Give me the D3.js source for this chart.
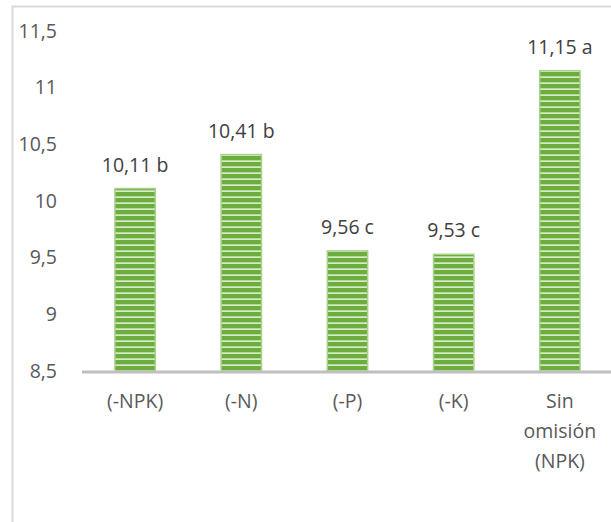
<!DOCTYPE html>
<html>
<head>
<meta charset="utf-8">
<script src="https://cdn.jsdelivr.net/npm/d3@7"></script>
<style>
  html, body { margin: 0; padding: 0; background: #fff; }
  svg { display: block; font-family: "Open Sans", sans-serif; }
</style>
</head>
<body>
<svg id="chart" width="611" height="522"></svg>
<script>
// data
const categories = ['(-NPK)', '(-N)', '(-P)', '(-K)', 'Sin omisión (NPK)'];
const yields     = [10.11, 10.41, 9.56, 9.53, 11.15];
const letters    = ['b', 'b', 'c', 'c', 'a'];
const yTicks     = [8.5, 9, 9.5, 10, 10.5, 11, 11.5];

const fmt = v => String(v).replace('.', ',');
const FONT = '19.5px';

const svg = d3.select('#chart');

// outer chart border (runs off the right and bottom edges)
svg.append('rect')
    .attr('x', 12.5).attr('y', 6.5)
    .attr('width', 640).attr('height', 560)
    .attr('fill', 'none')
    .attr('stroke', '#d9d9d9')
    .attr('stroke-width', 2);

// striped bar fill
const defs = svg.append('defs');
const pat = defs.append('pattern')
    .attr('id', 'stripes')
    .attr('patternUnits', 'userSpaceOnUse')
    .attr('width', 8).attr('height', 6);
pat.append('rect').attr('width', 8).attr('height', 6).attr('fill', '#6cad3e');
pat.append('rect').attr('y', 4.3).attr('width', 8).attr('height', 1.7).attr('fill', '#d6ebc8');

const x = d3.scaleBand()
    .domain(categories)
    .range([82, 613])
    .paddingInner(0.62)
    .paddingOuter(0.31);

const y = d3.scaleLinear()
    .domain([8.5, 11.5])
    .range([371, 31]);

// y labels
svg.append('g')
    .attr('transform', 'translate(57,0)')
    .call(d3.axisLeft(y).tickValues(yTicks).tickSize(0).tickPadding(0).tickFormat(fmt))
    .call(a => a.select('.domain').remove())
    .call(a => a.selectAll('text')
        .attr('fill', '#595959')
        .style('font-size', FONT)
        .style('font-family', '"Open Sans", sans-serif'));

// bars
svg.append('g').selectAll('rect')
    .data(categories)
    .join('rect')
    .attr('x', d => x(d))
    .attr('y', (d, i) => y(yields[i]))
    .attr('width', x.bandwidth())
    .attr('height', (d, i) => y(8.5) - y(yields[i]))
    .attr('fill', 'url(#stripes)')
    .attr('stroke', '#a9d18e')
    .attr('stroke-width', 1.5);

// value labels
svg.append('g').selectAll('text')
    .data(categories)
    .join('text')
    .attr('x', d => x(d) + x.bandwidth() / 2)
    .attr('y', (d, i) => y(yields[i]) - 17)
    .attr('text-anchor', 'middle')
    .attr('fill', '#404040')
    .style('font-size', FONT)
    .text((d, i) => `${fmt(yields[i])} ${letters[i]}`);

// baseline
svg.append('line')
    .attr('x1', 82).attr('x2', 611)
    .attr('y1', y(8.5) + 1).attr('y2', y(8.5) + 1)
    .attr('stroke', '#bfbfbf')
    .attr('stroke-width', 3);

// category labels, wrapped like the original
const wrap = { 'Sin omisión (NPK)': ['Sin', 'omisión', '(NPK)'] };
svg.append('g').selectAll('text')
    .data(categories)
    .join('text')
    .attr('text-anchor', 'middle')
    .attr('fill', '#595959')
    .style('font-size', FONT)
    .each(function (d) {
        const lines = wrap[d] || [d];
        d3.select(this).selectAll('tspan')
            .data(lines)
            .join('tspan')
            .attr('x', x(d) + x.bandwidth() / 2)
            .attr('y', (l, j) => 408 + j * 30)
            .text(l => l);
    });
</script>
</body>
</html>
